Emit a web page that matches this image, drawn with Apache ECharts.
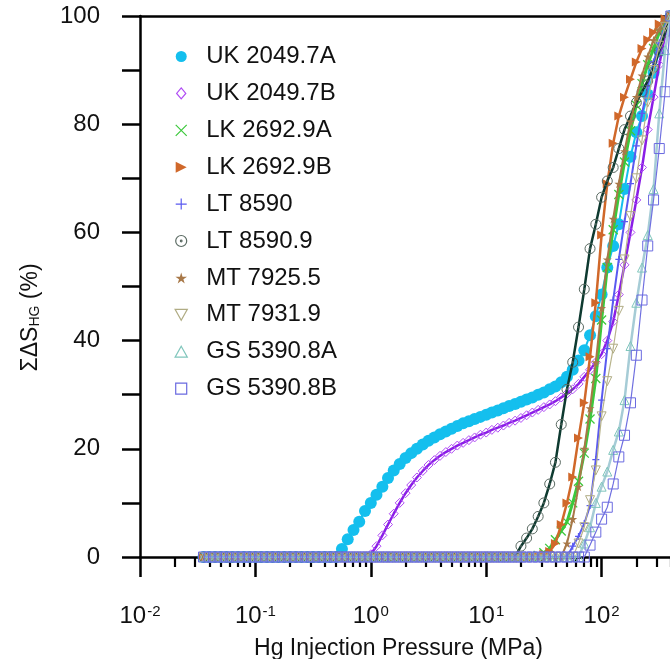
<!DOCTYPE html>
<html>
<head>
<meta charset="utf-8">
<script src="https://cdn.jsdelivr.net/npm/echarts@6/dist/echarts.min.js"></script>
<style>
html,body{margin:0;padding:0;background:#fff;}
#chart{width:670px;height:659px;}
</style>
</head>
<body>
<div id="chart"></div>
<script>
// Shared injection pressure steps (MPa)
var pressure = [
0.0355,0.0398,0.0447,0.0501,0.0562,0.0631,0.0708,0.0794,0.0891,0.100,
0.112,0.126,0.141,0.158,0.178,0.200,0.224,0.251,0.282,0.316,
0.355,0.398,0.447,0.501,0.562,0.631,0.708,0.794,0.891,1.00,
1.12,1.26,1.41,1.58,1.78,2.00,2.24,2.51,2.82,3.16,
3.55,3.98,4.47,5.01,5.62,6.31,7.08,7.94,8.91,10.0,
11.2,12.6,14.1,15.8,17.8,20.0,22.4,25.1,28.2,31.6,
35.5,39.8,44.7,50.1,56.2,63.1,70.8,79.4,89.1,100,
112,126,141,158,178,200,224,251,282,316,
355,398];

var seriesNames = ['UK 2049.7A','UK 2049.7B','LK 2692.9A','LK 2692.9B','LT 8590','LT 8590.9','MT 7925.5','MT 7931.9','GS 5390.8A','GS 5390.8B'];

var uk2049_7A = [
0,0,0,0,0,0,0,0,0,0, 0,0,0,0,0,0,0,0,0,0, 0,0,0,0,
1.5,3.3,5.0,6.5,8.5,
10.0,11.5,13.0,14.6,16.0,17.2,18.3,19.2,20.0,20.8,21.5,22.1,22.7,23.2,23.7,24.2,24.7,25.1,25.5,25.9,
26.3,26.7,27.1,27.5,27.9,28.3,28.7,29.1,29.5,30.0,30.4,31.0,31.5,32.3,33.3,34.6,36.3,38.2,41.0,44.5,
48.5,53.5,57.5,61.5,68.0,74.0,78.5,81.5,85.5,89.5,93.5,97.5,100];

var uk2049_7B = [
0,0,0,0,0,0,0,0,0,0, 0,0,0,0,0,0,0,0,0,0, 0,0,0,0,0,0,0,0,0,
0.5,2.0,4.0,6.0,8.0,10.0,11.8,13.3,14.7,15.9,17.0,17.9,18.7,19.4,20.0,20.6,21.1,21.6,22.1,22.6,
23.0,23.5,23.9,24.3,24.8,25.2,25.7,26.2,26.7,27.2,27.7,28.2,28.8,29.5,30.2,31.0,32.0,33.3,34.6,36.0,
37.5,40.0,43.5,48.5,54.0,60.0,66.0,72.0,79.0,85.0,91.0,96.5,100];

var lk2692_9A = [
0,0,0,0,0,0,0,0,0,0, 0,0,0,0,0,0,0,0,0,0, 0,0,0,0,0,0,0,0,0,0,
0,0,0,0,0,0,0,0,0,0, 0,0,0,0,0,0,0,0,0,0, 0,0,0,0,0,0,0,0,
0.3,0.8,1.6,3.2,4.8,6.5,10.0,14.0,19.2,25.5,33.0,
43.8,53.5,60.5,67.0,73.0,78.8,83.5,87.5,91.0,94.0,96.9,99.0,100];

var lk2692_9B = [
0,0,0,0,0,0,0,0,0,0, 0,0,0,0,0,0,0,0,0,0, 0,0,0,0,0,0,0,0,0,0,
0,0,0,0,0,0,0,0,0,0, 0,0,0,0,0,0,0,0,0,0, 0,0,0,0,0,0,0,0,
0.2,0.5,1.0,2.5,6.0,10.0,14.8,22.0,28.5,37.0,47.0,
59.5,69.0,76.5,81.5,85.0,88.3,91.5,94.0,95.6,97.0,98.5,99.5,100];

var lt8590 = [
0,0,0,0,0,0,0,0,0,0, 0,0,0,0,0,0,0,0,0,0, 0,0,0,0,0,0,0,0,0,0,
0,0,0,0,0,0,0,0,0,0, 0,0,0,0,0,0,0,0,0,0, 0,0,0,0,0,0,0,0,0,0,
0,0,0,0,
2.0,3.8,6.2,9.5,18.0,
29.0,38.5,47.5,55.0,62.0,69.0,76.0,82.0,87.0,91.5,95.0,98.0,100];

var lt8590_9 = [
0,0,0,0,0,0,0,0,0,0, 0,0,0,0,0,0,0,0,0,0, 0,0,0,0,0,0,0,0,0,0,
0,0,0,0,0,0,0,0,0,0, 0,0,0,0,0,0,0,0,0,0, 0,0,0,0,0,
2.0,3.5,5.2,7.5,10.0,13.5,17.5,24.5,31.0,36.0,42.5,49.5,57.0,61.5,
66.5,69.5,72.0,75.5,79.0,81.5,84.0,86.0,88.0,90.5,93.5,97.0,100];

var mt7925_5 = [
0,0,0,0,0,0,0,0,0,0, 0,0,0,0,0,0,0,0,0,0, 0,0,0,0,0,0,0,0,0,0,
0,0,0,0,0,0,0,0,0,0, 0,0,0,0,0,0,0,0,0,0, 0,0,0,0,0,0,0,0,0,0,
0,0,0,
2.5,7.0,13.0,20.0,27.5,36.0,
46.0,55.0,62.5,69.0,75.0,80.5,85.0,89.0,92.5,95.5,97.5,99.3,100];

var mt7931_9 = [
0,0,0,0,0,0,0,0,0,0, 0,0,0,0,0,0,0,0,0,0, 0,0,0,0,0,0,0,0,0,0,
0,0,0,0,0,0,0,0,0,0, 0,0,0,0,0,0,0,0,0,0, 0,0,0,0,0,0,0,0,0,0,
0,0,0,0,0,
2.5,5.5,10.5,16.0,
26.0,32.5,38.5,45.5,55.0,63.0,70.0,77.0,84.0,90.0,94.5,98.0,100];

var gs5390_8A = [
0,0,0,0,0,0,0,0,0,0, 0,0,0,0,0,0,0,0,0,0, 0,0,0,0,0,0,0,0,0,0,
0,0,0,0,0,0,0,0,0,0, 0,0,0,0,0,0,0,0,0,0, 0,0,0,0,0,0,0,0,0,0,
0,0,0,0,0,0,
2.5,5.5,10.0,
13.0,15.8,19.8,23.2,29.0,39.0,47.0,53.5,59.5,68.0,82.0,93.7,100];

var gs5390_8B = [
0,0,0,0,0,0,0,0,0,0, 0,0,0,0,0,0,0,0,0,0, 0,0,0,0,0,0,0,0,0,0,
0,0,0,0,0,0,0,0,0,0, 0,0,0,0,0,0,0,0,0,0, 0,0,0,0,0,0,0,0,0,0,
0,0,0,0,0,0,0,
2.2,4.6,
7.0,9.2,13.5,18.5,22.5,28.5,37.3,47.5,57.5,66.0,75.5,86.0,100];

var seriesValues = [uk2049_7A, uk2049_7B, lk2692_9A, lk2692_9B, lt8590, lt8590_9, mt7925_5, mt7931_9, gs5390_8A, gs5390_8B];

// Axis ticks
var xTickValues = [0.01, 0.1, 1, 10, 100, 1000];
var xTickExponents = ['-2', '-1', '0', '1', '2', '3'];
var xMinorTicks = [
0.02,0.03,0.04,0.05,0.06,0.07,0.08,0.09,
0.2,0.3,0.4,0.5,0.6,0.7,0.8,0.9,
2,3,4,5,6,7,8,9,
20,30,40,50,60,70,80,90,
200,300,400,500,600,700,800,900];
var yTickLabels = [0, 20, 40, 60, 80, 100];

// ---- styling ----
var FONT = '"Liberation Sans", Arial, Helvetica, sans-serif';
var symbols = {
  circle: 'circle',
  diamond: 'path://M5,0L10,6L5,12L0,6Z',
  cross: 'path://M0,0L10,10M0,10L10,0',
  rtri: 'path://M0,0L10,5L0,10Z',
  plus: 'path://M5,0L5,10M0,5L10,5',
  dotcircle: 'path://M10,0A10,10 0 1,1 10,20A10,10 0 1,1 10,0Z M10,8.5A1.5,1.5 0 1,1 10,11.5A1.5,1.5 0 1,1 10,8.5Z',
  star: 'path://M50,0L61,35L98,35L68,57L79,91L50,70L21,91L32,57L2,35L39,35Z',
  dtri: 'path://M0,0L10,0L5,9Z',
  utri: 'path://M5,0L10,9L0,9Z',
  square: 'path://M0,0L10,0L10,10L0,10Z'
};
var styles = [
  {sym: symbols.circle, size: 12, line: '#14bfee', lw: 2, fill: '#14bfee', border: '#14bfee', bw: 0},
  {sym: symbols.diamond, size: 9, line: '#8a1ee6', lw: 2.5, fill: 'rgba(255,255,255,0)', border: '#b04cf5', bw: 1},
  {sym: symbols.cross, size: 9, line: '#3cc83c', lw: 3, fill: 'rgba(255,255,255,0)', border: '#3cc83c', bw: 1.3},
  {sym: symbols.rtri, size: 9, line: '#d0682a', lw: 2.5, fill: '#d0682a', border: '#d0682a', bw: 0},
  {sym: symbols.plus, size: 7, line: '#5a5af0', lw: 2, fill: 'rgba(255,255,255,0)', border: '#5a5af0', bw: 1.3},
  {sym: symbols.dotcircle, size: 10, line: '#0e3a30', lw: 2.5, fill: 'rgba(255,255,255,0)', border: '#5a6a62', bw: 1},
  {sym: symbols.star, size: 9, line: '#a87848', lw: 2, fill: '#a87848', border: '#a87848', bw: 0},
  {sym: symbols.dtri, size: 9, line: '#b8b48c', lw: 1.2, fill: 'rgba(255,255,255,0)', border: '#b0ac84', bw: 1},
  {sym: symbols.utri, size: 9, line: '#a6ccd6', lw: 2.5, fill: 'rgba(255,255,255,0)', border: '#80c6bc', bw: 1},
  {sym: symbols.square, size: 10, line: '#7070e0', lw: 1.2, fill: 'rgba(255,255,255,0)', border: '#6a6ae0', bw: 1}
];

var series = seriesNames.map(function (name, i) {
  var s = styles[i];
  return {
    name: name,
    type: 'line',
    xAxisIndex: 0,
    yAxisIndex: 0,
    data: pressure.map(function (p, k) { return [p, seriesValues[i][k]]; }),
    symbol: s.sym,
    symbolSize: s.size,
    showSymbol: true,
    lineStyle: {color: s.line, width: s.lw},
    itemStyle: {color: s.fill, borderColor: s.border, borderWidth: s.bw},
    emphasis: {disabled: true},
    z: 2 + i
  };
});

var legendData = seriesNames.map(function (name, i) {
  var s = styles[i];
  return {
    name: name,
    icon: s.sym,
    itemStyle: {color: s.fill, borderColor: s.border, borderWidth: s.bw === 0 ? 0 : 1.2}
  };
});

var chart = echarts.init(document.getElementById('chart'), null, {renderer: 'canvas'});
chart.setOption({
  animation: false,
  backgroundColor: '#fff',
  textStyle: {fontFamily: FONT},
  grid: {left: 140, top: 16, width: 577, height: 541, containLabel: false, outerBoundsMode: 'none'},
  legend: {
    orient: 'vertical',
    left: 174.5,
    top: 44.5,
    padding: 0,
    itemWidth: 40,
    itemHeight: 11,
    itemGap: 12.9,
    data: legendData,
    selectedMode: false,
    textStyle: {fontSize: 24, color: '#111', fontFamily: FONT}
  },
  xAxis: [
    {
      type: 'log', logBase: 10, min: 0.01, max: 1000, position: 'bottom',
      name: 'Hg Injection Pressure (MPa)',
      nameLocation: 'middle', nameGap: 80,
      nameTextStyle: {fontSize: 23, color: '#111', fontFamily: FONT, padding: [0, 60, 0, 0]},
      axisLine: {show: true, lineStyle: {color: '#000', width: 2.5}},
      axisTick: {show: true, inside: false, length: 20, lineStyle: {color: '#000', width: 2.5}},
      minorTick: {show: false},
      splitLine: {show: false},
      axisLabel: {
        margin: 47,
        formatter: function (v) {
          var idx = -1;
          for (var j = 0; j < xTickValues.length; j++) {
            if (Math.abs(Math.log10(v) - Math.log10(xTickValues[j])) < 1e-6) idx = j;
          }
          return idx < 0 ? '' : '{b|10}{s|' + xTickExponents[idx] + '}';
        },
        rich: {
          b: {fontSize: 24, color: '#111', fontFamily: FONT},
          s: {fontSize: 15, color: '#111', fontFamily: FONT, verticalAlign: 'top', padding: [0, 0, 0, 1]}
        }
      }
    },
    {
      type: 'log', logBase: 10, min: 0.01, max: 1000, position: 'bottom',
      axisLine: {show: false},
      axisTick: {show: true, inside: false, length: 10, customValues: xMinorTicks, lineStyle: {color: '#000', width: 2.2}},
      axisLabel: {show: false},
      splitLine: {show: false}
    },
    {
      type: 'log', logBase: 10, min: 0.01, max: 1000, position: 'top',
      axisLine: {show: true, lineStyle: {color: '#000', width: 2.5}},
      axisTick: {show: false},
      axisLabel: {show: false},
      splitLine: {show: false}
    }
  ],
  yAxis: {
    type: 'value', min: 0, max: 100, interval: 10,
    name: '{a|ΣΔS}{b|HG}{a| (%)}',
    nameLocation: 'middle', nameGap: 98, nameRotate: 90,
    nameTextStyle: {
      padding: [0, 62, 0, 0],
      rich: {
        a: {fontSize: 23, color: '#111', fontFamily: FONT},
        b: {fontSize: 14, color: '#111', fontFamily: FONT, verticalAlign: 'bottom'}
      }
    },
    axisLine: {show: true, lineStyle: {color: '#000', width: 2.5}},
    axisTick: {show: true, inside: false, length: 18, lineStyle: {color: '#000', width: 2.5}},
    splitLine: {show: false},
    axisLabel: {
      margin: 40, fontSize: 24, color: '#111', fontFamily: FONT,
      formatter: function (v) { return yTickLabels.indexOf(v) >= 0 ? String(v) : ''; }
    }
  },
  series: series
});
</script>
</body>
</html>
